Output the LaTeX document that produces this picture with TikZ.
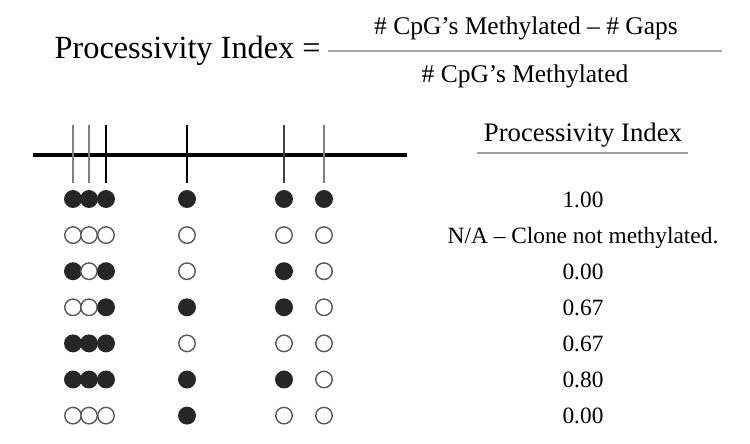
\documentclass[tikz,border=0pt]{standalone}
\usepackage{fontspec}
\setmainfont{Liberation Serif}
\usetikzlibrary{positioning}

\begin{document}
\begin{tikzpicture}[x=0.02cm,y=-0.02cm,
    site/.style={circle,draw=black!65,line width=0.8pt,minimum size=0.33cm,inner sep=0pt},
    meth/.style={site,draw=black!85,fill=black!85},
    unmeth/.style={site,fill=white},
    pival/.style={anchor=base,inner sep=0pt,font=\fontsize{13.3}{15}\selectfont}]
    \useasboundingbox (0,0) rectangle (750,443);
    % formula at the top
    \node[anchor=east,inner sep=0pt,font=\fontsize{18.4}{22}\selectfont] (pieq) at (321,51)
      {Processivity Index =};
    \coordinate (fracL) at (328,51);
    \coordinate (fracR) at (722,51);
    \draw[line width=0.9pt,gray!70] (fracL) -- (fracR);
    \node[font=\fontsize{14.5}{17}\selectfont] (num) at (526,28)
      {\# CpG’s Methylated -- \# Gaps};
    \node[font=\fontsize{14.5}{17}\selectfont] (den) at (525,76)
      {\# CpG’s Methylated};
    % DNA strand with the CpG sites
    \coordinate (dnaL) at (33,155);
    \coordinate (dnaR) at (407,155);
    \draw[line width=1.8pt] (dnaL) -- (dnaR);
    \foreach \x/\c [count=\i] in {73/gray,89/gray,106/black,187/black,284/black!75,324/gray} {
      \coordinate (tick\i a) at (\x,125);
      \coordinate (tick\i b) at (\x,183);
      \draw[line width=1.1pt,\c] (tick\i a) -- (tick\i b);
    }
    % header of the right column
    \node[font=\fontsize{15.2}{18}\selectfont] (pihead) at (583,135) {Processivity Index};
    \coordinate (ulL) at (477,153);
    \coordinate (ulR) at (688,153);
    \draw[line width=1.5pt,gray!75] (ulL) -- (ulR);
    % clones: 1 = methylated, 0 = not methylated
    \foreach \pat/\val [count=\r] in {{1,1,1,1,1,1}/1.00,
        {0,0,0,0,0,0}/{N/A -- Clone not methylated.},
        {1,0,1,0,1,0}/0.00,
        {0,0,1,1,1,0}/0.67,
        {1,1,1,0,0,0}/0.67,
        {1,1,1,1,1,0}/0.80,
        {0,0,0,1,0,0}/0.00} {
      \pgfmathsetmacro\ry{199+36.1*(\r-1)}
      \foreach \m [count=\c] in \pat {
        \pgfmathsetmacro\cx{{73,89,106,187,284,324}[\c-1]}
        \ifnum\m=1
          \node[meth] (c\r s\c) at (\cx,\ry) {};
        \else
          \node[unmeth] (c\r s\c) at (\cx,\ry) {};
        \fi
      }
      \node[pival] (val\r) at (583,\ry+8) {\val};
    }
\end{tikzpicture}
\end{document}
